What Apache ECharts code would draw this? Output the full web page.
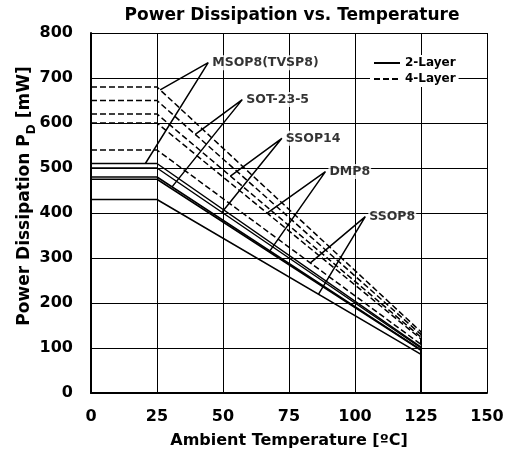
<!DOCTYPE html>
<html>
<head>
<meta charset="utf-8">
<script src="https://cdn.jsdelivr.net/npm/echarts@6/dist/echarts.min.js"></script>
<style>
  html, body { margin: 0; padding: 0; background: #fff; }
  #chart { width: 517px; height: 455px; }
</style>
</head>
<body>
<div id="chart"></div>
<script>
// package names and their derating curves (mW at 0..25 degC, then mW at 125 degC)
var packages = ['MSOP8(TVSP8)', 'SOT-23-5', 'SSOP14', 'DMP8', 'SSOP8'];
var temps = [0, 25, 125, 125];
var pd4Layer = [680, 650, 620, 600, 540];
var pd4Layer125 = [136, 130, 124, 120, 108];
var pd2Layer = [510, 480, 500, 475, 430];
var pd2Layer125 = [102, 96, 100, 95, 86];

// label tip [degC, mW] and the temperature where each pointer touches its curve
var labelTip = [[44.4, 734], [57.3, 652], [72.3, 566], [88.8, 492], [103.9, 392]];
var pointTo4 = [26.2, 39.5, 52.8, 66.7, 83.1];
var pointTo2 = [20.6, 30.7, 49.6, 67.5, 86.2];

var xTicks = [0, 25, 50, 75, 100, 125, 150];
var yTicks = [0, 100, 200, 300, 400, 500, 600, 700, 800];

var FONT = 'DejaVu Sans';
var dash = [6, 3];

var myChart = echarts.init(document.getElementById('chart'));

// 곡선 위의 값 (25도까지는 평탄, 이후 직선 감소)
var valueAt = function(p0, p125, t) {
  if (t <= 25) return p0;
  return p0 + (p125 - p0) * (t - 25) / 100;
};

var curve = function(p0, p125) {
  return temps.map(function(t, i) {
    return [t, i < 3 ? (i < 2 ? p0 : p125) : 0];
  });
};

var series = [];

packages.forEach(function(name, i) {
  series.push({
    name: name + ' 4-Layer',
    type: 'line',
    symbol: 'none',
    silent: true,
    z: 3,
    lineStyle: { color: '#000', width: 1.5, type: dash },
    data: curve(pd4Layer[i], pd4Layer125[i])
  });
  series.push({
    name: name + ' 2-Layer',
    type: 'line',
    symbol: 'none',
    silent: true,
    z: 3,
    lineStyle: { color: '#000', width: 1.5, type: 'solid' },
    data: curve(pd2Layer[i], pd2Layer125[i])
  });
  // pointer lines from the label to both curves
  series.push({
    type: 'line',
    symbol: 'none',
    silent: true,
    z: 4,
    lineStyle: { color: '#000', width: 1.5 },
    data: [
      [pointTo4[i], valueAt(pd4Layer[i], pd4Layer125[i], pointTo4[i])],
      labelTip[i],
      [pointTo2[i], valueAt(pd2Layer[i], pd2Layer125[i], pointTo2[i])]
    ]
  });
});

// labels
series.push({
  type: 'scatter',
  symbolSize: 0,
  silent: true,
  z: 10,
  itemStyle: { color: 'rgba(0,0,0,0)' },
  label: {
    show: true,
    position: 'right',
    distance: 3,
    fontFamily: FONT,
    fontWeight: 'bold',
    fontSize: 12.5,
    color: '#000',
    backgroundColor: '#fff',
    padding: [1, 1],
    formatter: function(p) { return p.name; }
  },
  data: packages.map(function(name, i) {
    return { name: name, value: labelTip[i] };
  })
});

// legend dummy series
series.push({
  name: '2-Layer', type: 'line', symbol: 'none', data: [],
  itemStyle: { color: '#000' },
  lineStyle: { color: '#000', width: 1.5, type: 'solid' }
});
series.push({
  name: '4-Layer', type: 'line', symbol: 'none', data: [],
  itemStyle: { color: '#000' },
  lineStyle: { color: '#000', width: 1.5, type: dash }
});

var option = {
  animation: false,
  backgroundColor: '#fff',
  title: {
    text: 'Power Dissipation vs. Temperature',
    left: 287,
    textAlign: 'center',
    top: 2,
    textStyle: { fontFamily: FONT, fontWeight: 'bold', fontSize: 17, color: '#000' }
  },
  legend: {
    data: ['2-Layer', '4-Layer'],
    orient: 'vertical',
    left: 370,
    top: 55,
    padding: [2, 3],
    itemWidth: 26,
    itemHeight: 14,
    itemGap: 4,
    backgroundColor: '#fff',
    z: 10,
    itemStyle: { opacity: 0 },
    textStyle: { fontFamily: FONT, fontWeight: 'bold', fontSize: 12, color: '#000' }
  },
  grid: {
    left: 91,
    right: 30,
    top: 33,
    bottom: 62,
    containLabel: false,
    outerBoundsMode: 'none'
  },
  xAxis: {
    type: 'value',
    min: xTicks[0],
    max: xTicks[xTicks.length - 1],
    interval: 25,
    name: 'Ambient Temperature [ºC]',
    nameLocation: 'middle',
    nameGap: 40,
    nameTextStyle: { fontFamily: FONT, fontWeight: 'bold', fontSize: 16, color: '#000' },
    axisLine: { show: true, lineStyle: { color: '#000', width: 2 } },
    axisTick: { show: false },
    axisLabel: { margin: 16, fontFamily: FONT, fontWeight: 'bold', fontSize: 16, color: '#000' },
    splitLine: { show: true, lineStyle: { color: '#000', width: 1 } }
  },
  yAxis: {
    type: 'value',
    min: yTicks[0],
    max: yTicks[yTicks.length - 1],
    interval: 100,
    axisLine: { show: true, lineStyle: { color: '#000', width: 2 } },
    axisTick: { show: false },
    axisLabel: { margin: 18, fontFamily: FONT, fontWeight: 'bold', fontSize: 16, color: '#000' },
    splitLine: { show: true, lineStyle: { color: '#000', width: 1 } }
  },
  graphic: [{
    type: 'text',
    x: 25,
    y: 196,
    rotation: Math.PI / 2,
    style: {
      text: '{a|Power Dissipation P}{s|D}{a| [mW]}',
      align: 'center',
      verticalAlign: 'middle',
      rich: {
        a: { fontFamily: FONT, fontWeight: 'bold', fontSize: 17, fill: '#000', verticalAlign: 'bottom' },
        s: { fontFamily: FONT, fontWeight: 'bold', fontSize: 12, fill: '#000', verticalAlign: 'bottom', padding: [0, 0, -4, 0] }
      }
    }
  }],
  series: series
};

myChart.setOption(option);
</script>
</body>
</html>
